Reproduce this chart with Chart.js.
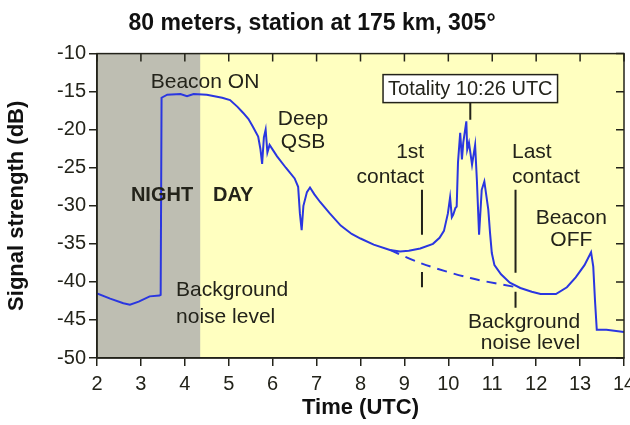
<!DOCTYPE html>
<html>
<head>
<meta charset="utf-8">
<script src="https://cdn.jsdelivr.net/npm/chart.js@4.4.0/dist/chart.umd.min.js"></script>
<style>
  html, body { margin: 0; padding: 0; background: #fff; }
  #wrap { width: 630px; height: 425px; }
</style>
</head>
<body>
<div id="wrap"><canvas id="signalChart" width="630" height="425"></canvas></div>
<script>
// Chart data
const timeUtc = [2.0, 2.3, 2.6, 2.75, 2.95, 3.2, 3.42, 3.45, 3.47, 3.6, 3.9, 4.05, 4.2, 4.5, 4.85,
  5.03, 5.2, 5.33, 5.45, 5.55, 5.67, 5.72, 5.76, 5.8, 5.84, 5.88, 5.93, 6.1, 6.3, 6.5,
  6.58, 6.62, 6.66, 6.7, 6.78, 6.85, 6.95, 7.08, 7.3, 7.55, 7.8, 8.0, 8.3, 8.67, 8.9,
  9.1, 9.36, 9.65, 9.8, 9.9, 9.99, 10.04, 10.08, 10.11, 10.16, 10.19, 10.22, 10.27, 10.31, 10.34,
  10.41, 10.43, 10.47, 10.54, 10.61, 10.65, 10.7, 10.76, 10.82, 10.91, 10.95, 10.99, 11.05, 11.2, 11.4,
  11.64, 11.9, 12.1, 12.45, 12.7, 12.9, 13.1, 13.25, 13.3, 13.34, 13.38, 13.6, 14.0];
const signalDb = [-41.5, -42.2, -42.8, -43.0, -42.6, -41.9, -41.8, -41.7, -15.8, -15.4, -15.3, -15.6, -15.3, -15.4, -15.8,
  -16.1, -17.0, -17.8, -18.6, -19.6, -20.9, -22.5, -24.5, -21.0, -20.0, -23.0, -22.0, -23.5, -25.0, -26.4,
  -27.5, -31.0, -33.2, -30.0, -28.2, -27.6, -28.5, -29.5, -31.0, -32.6, -33.7, -34.3, -35.1, -35.8, -36.0,
  -35.9, -35.6, -35.0, -34.2, -33.3, -31.0, -28.9, -31.5, -31.2, -30.3, -30.1, -24.3, -20.4, -23.9, -21.7,
  -18.9, -22.6, -21.7, -24.6, -22.0, -26.6, -33.8, -27.9, -26.8, -30.5, -33.6, -36.2, -37.8, -39.0, -40.1,
  -40.8, -41.3, -41.6, -41.6, -40.7, -39.4, -37.8, -36.1, -38.0, -42.5, -46.3, -46.3, -46.6];

// Estimated background noise during the eclipse (dashed)
const noiseTime = [8.67, 9.4, 10.5, 11.64];
const noiseDb = [-35.8, -37.6, -39.5, -40.8];

const xTicks = [2, 3, 4, 5, 6, 7, 8, 9, 10, 11, 12, 13, 14];
const yTicks = [-10, -15, -20, -25, -30, -35, -40, -45, -50];

const nightEnd = 4.35;

// Text notes placed in data units
const notes = [
  { text: 'Beacon ON', x: 4.46, y: -13.7, align: 'center' },
  { text: 'Deep', x: 6.69, y: -18.6, align: 'center' },
  { text: 'QSB', x: 6.69, y: -21.7, align: 'center' },
  { text: 'NIGHT', x: 3.48, y: -28.6, align: 'center', bold: true },
  { text: 'DAY', x: 5.1, y: -28.6, align: 'center', bold: true },
  { text: 'Background', x: 3.8, y: -41.1, align: 'left' },
  { text: 'noise level', x: 3.8, y: -44.6, align: 'left' },
  { text: '1st', x: 9.45, y: -23.0, align: 'right' },
  { text: 'contact', x: 9.45, y: -26.2, align: 'right' },
  { text: 'Last', x: 11.45, y: -23.0, align: 'left' },
  { text: 'contact', x: 11.45, y: -26.2, align: 'left' },
  { text: 'Beacon', x: 12.8, y: -31.6, align: 'center' },
  { text: 'OFF', x: 12.8, y: -34.5, align: 'center' },
  { text: 'Background', x: 13.0, y: -45.3, align: 'right' },
  { text: 'noise level', x: 13.0, y: -48.0, align: 'right' }
];

// Marker lines [x, yFrom, yTo]
const markers = [
  [9.4, -27.9, -33.8], [9.4, -38.7, -40.7],
  [11.53, -27.9, -38.8], [11.53, -41.3, -43.4],
  [10.5, -16.4, -18.7]
];

const INK = '#23231a';
const FONT = '"Liberation Sans", Arial, sans-serif';

// Background shading: yellow day, gray night
const shadePlugin = {
  id: 'shade',
  beforeDraw(chart) {
    const { ctx, chartArea: a, scales } = chart;
    ctx.save();
    ctx.fillStyle = '#ffffc0';
    ctx.fillRect(a.left, a.top, a.right - a.left, a.bottom - a.top);
    const xn = scales.x.getPixelForValue(nightEnd);
    ctx.fillStyle = '#bebeb2';
    ctx.fillRect(a.left, a.top, xn - a.left, a.bottom - a.top);
    ctx.restore();
  }
};

// Frame, inner ticks, notes and the totality box
const notesPlugin = {
  id: 'notes',
  afterDatasetsDraw(chart) {
    const { ctx, chartArea: a, scales } = chart;
    const xs = scales.x, ys = scales.y;
    ctx.save();
    ctx.strokeStyle = INK;
    ctx.lineWidth = 1.5;
    ctx.strokeRect(a.left, a.top, a.right - a.left, a.bottom - a.top);
    ctx.beginPath();
    xTicks.forEach(v => {
      const px = xs.getPixelForValue(v);
      ctx.moveTo(px, a.top);
      ctx.lineTo(px, a.top + 8);
    });
    yTicks.forEach(v => {
      const py = ys.getPixelForValue(v);
      ctx.moveTo(a.right, py);
      ctx.lineTo(a.right - 8, py);
    });
    ctx.stroke();

    ctx.lineWidth = 2;
    ctx.beginPath();
    markers.forEach(m => {
      const px = xs.getPixelForValue(m[0]);
      ctx.moveTo(px, ys.getPixelForValue(m[1]));
      ctx.lineTo(px, ys.getPixelForValue(m[2]));
    });
    ctx.stroke();

    ctx.fillStyle = INK;
    ctx.textBaseline = 'middle';
    notes.forEach(n => {
      ctx.font = (n.bold ? 'bold 20px ' : '21px ') + FONT;
      ctx.textAlign = n.align;
      ctx.fillText(n.text, xs.getPixelForValue(n.x), ys.getPixelForValue(n.y));
    });

    // Totality label box
    const bx = xs.getPixelForValue(10.5);
    const by = ys.getPixelForValue(-14.6);
    ctx.font = '20px ' + FONT;
    const w = ctx.measureText('Totality 10:26 UTC').width + 10;
    ctx.fillStyle = '#ffffff';
    ctx.fillRect(bx - w / 2, by - 14, w, 28);
    ctx.lineWidth = 1.5;
    ctx.strokeRect(bx - w / 2, by - 14, w, 28);
    ctx.fillStyle = INK;
    ctx.textAlign = 'center';
    ctx.fillText('Totality 10:26 UTC', bx, by + 1);
    ctx.restore();
  }
};

const ctx = document.getElementById('signalChart');
new Chart(ctx, {
  type: 'line',
  data: {
    datasets: [{
      label: 'Signal',
      data: timeUtc.map((t, i) => ({ x: t, y: signalDb[i] })),
      borderColor: '#2a36e0',
      borderWidth: 2,
      pointRadius: 0,
      tension: 0
    }, {
      label: 'Noise',
      data: noiseTime.map((t, i) => ({ x: t, y: noiseDb[i] })),
      borderColor: '#2a36e0',
      borderWidth: 2,
      borderDash: [10, 7],
      pointRadius: 0,
      tension: 0.3
    }]
  },
  options: {
    responsive: false,
    animation: false,
    layout: { padding: { left: 0, right: 6, top: 0, bottom: 0 } },
    plugins: {
      legend: { display: false },
      tooltip: { enabled: false },
      title: {
        display: true,
        text: '80 meters, station at 175 km, 305°',
        color: '#111',
        font: { family: FONT, size: 23, weight: 'bold' },
        padding: { top: 10, bottom: 16 }
      }
    },
    scales: {
      x: {
        type: 'linear',
        min: 2,
        max: 14,
        afterBuildTicks: s => { s.ticks = xTicks.map(v => ({ value: v })); },
        afterFit: s => { s.height = 67; s.paddingRight = 0; },
        ticks: { color: INK, padding: 6, font: { family: FONT, size: 20 } },
        grid: { drawOnChartArea: false, tickLength: 8, color: INK, lineWidth: 1.5 },
        border: { color: INK, width: 1.5 },
        title: {
          display: true,
          text: 'Time (UTC)',
          color: '#111',
          font: { family: FONT, size: 22, weight: 'bold' },
          padding: { top: 2, bottom: 4 }
        }
      },
      y: {
        min: -50,
        max: -10,
        afterBuildTicks: s => { s.ticks = yTicks.map(v => ({ value: v })); },
        afterFit: s => { s.width = 97; },
        ticks: { color: INK, padding: 3, font: { family: FONT, size: 20 } },
        grid: { drawOnChartArea: false, tickLength: 8, color: INK, lineWidth: 1.5 },
        border: { color: INK, width: 1.5 },
        title: {
          display: true,
          text: 'Signal strength (dB)',
          color: '#111',
          font: { family: FONT, size: 22, weight: 'bold' },
          padding: { top: 4, bottom: 2 }
        }
      }
    }
  },
  plugins: [shadePlugin, notesPlugin]
});
</script>
</body>
</html>
